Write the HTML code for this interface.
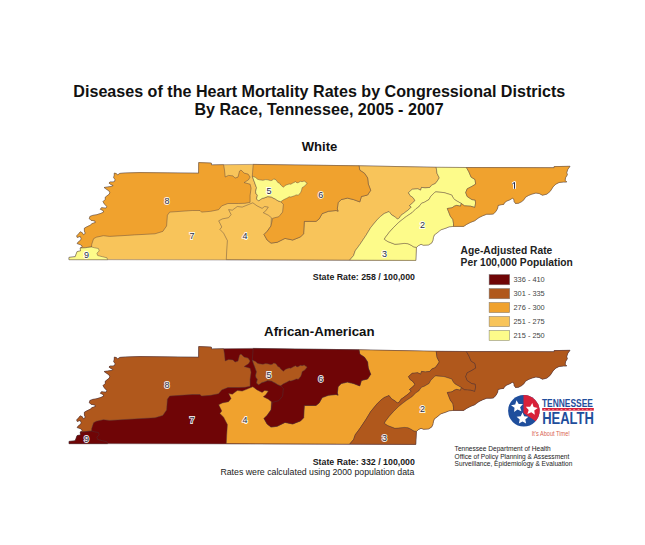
<!DOCTYPE html>
<html><head><meta charset="utf-8"><style>
html,body{margin:0;padding:0;background:#fff;}
body{width:645px;height:545px;overflow:hidden;position:relative;}
svg{position:absolute;left:0;top:0;}
</style></head><body>
<svg width="645" height="545" viewBox="0 0 645 545" font-family="Liberation Sans, sans-serif">
<rect width="645" height="545" fill="#fff"/>
<g fill="#111" font-weight="bold" text-anchor="middle">
<text x="319.3" y="96.6" font-size="16.1">Diseases of the Heart Mortality Rates by Congressional Districts</text>
<text x="319.1" y="114.7" font-size="16.1">By Race, Tennessee, 2005 - 2007</text>
<text x="319.5" y="150.8" font-size="13.1">White</text>
<text x="319.3" y="336.3" font-size="13.25">African-American</text>
</g>
<g transform="translate(0,0)" stroke="#4a3a3e" stroke-width="0.42" stroke-linejoin="round">
<path d="M69.0 259.7 69.0 257.4 75.2 256.7 77.1 251.6 80.6 250.9 80.2 248.1 81.5 247.5 82.3 246.1 80.3 244.6 77.2 243.6 78.2 242.0 80.3 240.5 81.3 238.9 80.3 236.4 77.2 237.4 76.7 235.9 78.7 233.8 80.3 231.8 82.3 232.8 83.4 234.8 85.4 233.3 84.4 231.2 84.4 228.2 86.4 227.1 89.5 225.6 90.5 225.0 92.1 223.6 95.4 222.5 94.9 220.9 91.0 220.3 89.4 218.7 89.9 216.5 92.7 215.4 96.5 214.8 100.9 213.4 103.7 212.1 103.1 210.4 100.4 209.3 101.5 207.7 105.9 208.2 107.0 206.6 104.2 203.8 103.1 201.6 105.3 199.4 105.3 197.2 108.1 195.0 109.3 194.1 109.9 192.2 108.2 190.3 105.5 188.6 104.1 187.5 107.7 187.0 111.5 186.4 113.2 185.6 111.0 184.5 109.0 183.1 109.9 182.0 113.2 182.0 114.8 181.2 115.1 179.6 113.7 177.6 114.3 175.2 114.3 173.1 116.3 173.6 117.6 175.0 119.8 173.4 125.0 173.0 140.0 172.6 198.6 173.2 198.7 162.6 211.3 163.1 211.5 164.9 223.6 164.7 253.2 164.4 359.0 165.8 436.2 167.3 466.4 167.5 554.1 167.7 554.1 166.6 570.0 166.3 567.8 169.3 566.7 172.6 567.3 174.8 565.6 177.6 565.1 180.3 566.7 182.0 563.4 182.0 559.0 182.5 555.7 184.2 553.0 186.9 550.2 191.3 546.9 194.1 542.5 195.2 539.2 193.5 535.9 193.0 531.6 194.2 528.5 195.4 525.4 197.3 524.1 199.5 521.7 201.6 518.6 203.2 515.5 203.5 514.2 201.6 513.9 199.2 512.4 198.2 509.9 199.8 506.8 201.0 504.3 202.9 503.7 204.4 501.2 204.7 498.1 205.4 497.6 208.3 495.9 211.5 493.2 214.0 490.5 214.2 486.7 214.2 482.4 215.9 479.1 217.5 476.9 219.1 474.8 220.7 470.4 222.4 466.6 224.4 463.6 226.4 453.5 226.4 449.1 226.8 446.0 228.1 440.5 229.9 438.6 231.8 434.3 234.9 433.4 237.5 432.8 240.6 431.6 243.1 428.5 244.9 423.5 245.2 421.0 244.3 418.6 245.5 416.4 247.4 415.8 260.4 69.0 259.6Z" fill="#f8c45a"/>
<path d="M114.3 173.1 116.3 173.6 117.6 175.0 119.8 173.4 125.0 173.0 140.0 172.6 198.6 173.2 198.7 162.6 211.3 163.1 211.5 164.9 223.6 164.7 223.6 164.7 224.5 170.0 225.2 177.0 228.5 175.4 233.0 175.9 235.0 178.1 238.0 177.1 239.5 171.1 241.0 170.0 244.1 173.1 248.1 174.1 250.1 177.1 248.5 179.8 244.1 182.6 250.1 184.2 251.1 188.2 250.1 195.3 250.1 202.3 245.1 203.3 238.7 203.5 227.9 203.5 221.7 205.9 218.6 209.7 210.8 211.3 201.5 212.1 200.0 210.5 192.2 210.5 169.7 212.1 167.4 215.2 166.6 226.0 162.8 231.4 155.0 233.8 134.4 234.9 122.0 235.7 109.6 236.4 103.4 235.7 96.4 237.2 93.6 238.7 91.7 244.4 91.5 247.0 87.6 247.4 85.3 247.8 80.2 248.1 81.5 247.5 82.3 246.1 80.3 244.6 77.2 243.6 78.2 242.0 80.3 240.5 81.3 238.9 80.3 236.4 77.2 237.4 76.7 235.9 78.7 233.8 80.3 231.8 82.3 232.8 83.4 234.8 85.4 233.3 84.4 231.2 84.4 228.2 86.4 227.1 89.5 225.6 90.5 225.0 92.1 223.6 95.4 222.5 94.9 220.9 91.0 220.3 89.4 218.7 89.9 216.5 92.7 215.4 96.5 214.8 100.9 213.4 103.7 212.1 103.1 210.4 100.4 209.3 101.5 207.7 105.9 208.2 107.0 206.6 104.2 203.8 103.1 201.6 105.3 199.4 105.3 197.2 108.1 195.0 109.3 194.1 109.9 192.2 108.2 190.3 105.5 188.6 104.1 187.5 107.7 187.0 111.5 186.4 113.2 185.6 111.0 184.5 109.0 183.1 109.9 182.0 113.2 182.0 114.8 181.2 115.1 179.6 113.7 177.6 114.3 175.2 114.3 173.1Z" fill="#f0a22e"/>
<path d="M80.2 248.1 85.3 247.8 87.6 247.4 91.5 247.0 94.6 247.8 98.4 248.5 99.2 250.9 96.9 253.2 97.7 255.5 102.3 256.7 107.0 257.8 107.7 259.7 69.0 259.7 69.0 257.4 75.2 256.7 77.1 251.6 80.6 250.9 80.2 248.1Z" fill="#fdfb8a"/>
<path d="M226.3 259.6 226.7 251.0 227.4 240.6 223.6 233.2 219.9 229.4 221.8 227.0 218.7 220.8 222.4 218.9 228.6 217.7 231.1 214.6 228.6 209.6 232.3 210.2 237.3 206.5 242.2 207.1 248.4 204.6 252.8 202.8 257.1 205.9 262.1 208.4 264.6 206.5 268.3 207.1 265.8 210.8 263.3 212.7 268.3 215.2 271.4 217.7 271.0 226.0 267.1 231.4 264.0 234.5 267.1 240.0 271.0 243.1 277.2 242.3 285.0 238.4 292.7 240.0 300.5 236.9 303.6 233.8 304.3 221.4 309.8 221.4 316.0 221.4 319.1 219.0 322.2 213.6 328.4 211.3 336.1 210.5 338.1 211.2 337.3 208.9 338.1 202.7 341.2 199.6 347.4 198.1 353.6 199.6 359.8 201.9 361.4 196.5 367.6 195.0 370.7 190.3 368.3 184.1 367.6 177.9 364.5 173.3 359.8 170.2 359.0 165.8 436.2 167.3 437.0 173.3 439.3 177.9 436.2 182.6 435.0 183.7 431.7 185.1 429.9 187.4 425.2 187.9 421.5 187.4 420.6 190.2 417.8 188.8 412.2 189.3 408.5 192.6 409.9 195.3 413.1 197.7 415.0 200.5 412.2 203.3 409.4 205.6 411.3 207.0 408.5 209.8 404.8 212.6 401.0 215.3 399.2 218.1 397.3 219.1 395.5 217.2 391.7 214.9 389.0 211.6 384.3 213.5 380.6 216.3 376.9 220.0 370.7 227.6 366.0 235.3 359.8 244.6 355.2 250.8 353.6 255.5 349.7 260.1Z" fill="#f8c45a"/>
<path d="M253.2 164.4 359.0 165.8 359.8 170.2 364.5 173.3 367.6 177.9 368.3 184.1 370.7 190.3 367.6 195.0 361.4 196.5 359.8 201.9 353.6 199.6 347.4 198.1 341.2 199.6 338.1 202.7 337.3 208.9 338.1 211.2 336.1 210.5 328.4 211.3 322.2 213.6 319.1 219.0 316.0 221.4 309.8 221.4 304.3 221.4 303.6 233.8 300.5 236.9 292.7 240.0 285.0 238.4 277.2 242.3 271.0 243.1 267.1 240.0 264.0 234.5 267.1 231.4 271.0 226.0 272.6 218.3 278.8 216.7 282.6 212.1 283.4 204.3 280.7 201.7 277.9 200.8 275.1 198.9 273.2 198.1 271.4 197.0 267.7 196.6 264.0 198.0 262.0 198.4 260.2 199.8 258.4 200.8 256.5 198.9 257.4 195.2 256.0 193.6 255.6 191.5 256.5 187.7 255.1 184.0 254.5 182.2 253.7 180.3 252.3 176.1Z" fill="#f0a22e"/>
<path d="M252.3 176.1 255.6 177.5 257.5 179.2 259.3 179.8 263.0 180.3 265.5 179.6 267.7 179.8 270.5 180.6 272.3 180.3 273.7 178.9 276.0 179.8 277.9 182.6 279.6 183.2 280.7 185.0 283.5 187.3 285.2 185.4 286.3 185.0 289.1 184.0 290.8 184.2 292.8 183.1 295.6 181.7 297.0 182.9 298.4 182.6 300.5 181.3 302.1 181.7 304.2 181.0 305.8 182.2 307.2 183.1 304.9 185.9 302.1 187.7 301.6 190.2 300.7 192.4 298.4 195.2 296.2 194.9 294.7 195.7 290.9 197.0 289.2 196.8 287.2 198.0 283.5 199.8 280.7 201.7 277.9 200.8 275.1 198.9 273.2 198.1 271.4 197.0 267.7 196.6 264.0 198.0 262.0 198.4 260.2 199.8 258.4 200.8 256.5 198.9 257.4 195.2 256.0 193.6 255.6 191.5 256.5 187.7 255.1 184.0 254.5 182.2 253.7 180.3Z" fill="#fdfb8a"/>
<path d="M436.2 167.3 466.4 167.5 468.8 171.7 471.1 177.1 475.0 179.5 475.7 184.1 471.9 186.4 467.2 188.8 465.7 192.6 467.2 196.5 471.9 199.6 475.2 200.0 475.6 203.1 474.8 207.4 470.6 206.2 464.4 205.8 461.3 203.5 455.1 200.0 453.3 198.1 451.7 195.0 444.0 192.6 436.2 191.9 435.0 192.1 430.8 196.3 429.0 199.5 424.3 202.3 421.5 203.3 418.7 207.0 415.9 208.8 412.2 212.6 406.6 216.3 402.9 219.1 398.3 222.8 393.6 227.4 389.3 232.2 385.5 237.2 384.3 239.2 387.7 241.5 395.0 244.3 404.3 243.4 408.0 243.7 411.1 245.2 413.6 246.8 416.4 247.4 415.8 260.4 349.7 260.1 353.6 255.5 355.2 250.8 359.8 244.6 366.0 235.3 370.7 227.6 376.9 220.0 380.6 216.3 384.3 213.5 389.0 211.6 391.7 214.9 395.5 217.2 397.3 219.1 399.2 218.1 401.0 215.3 404.8 212.6 408.5 209.8 411.3 207.0 409.4 205.6 412.2 203.3 415.0 200.5 413.1 197.7 409.9 195.3 408.5 192.6 412.2 189.3 417.8 188.8 420.6 190.2 421.5 187.4 425.2 187.9 429.9 187.4 431.7 185.1 435.0 183.7 436.2 182.6 439.3 177.9 437.0 173.3Z" fill="#fdfb8a"/>
<path d="M435.0 192.1 436.2 191.9 444.0 192.6 451.7 195.0 453.3 198.1 455.1 200.0 461.3 203.5 460.5 206.2 456.6 205.4 454.3 206.2 452.0 207.8 447.3 208.5 448.5 211.6 450.4 216.3 452.8 219.4 453.5 223.3 453.5 226.4 449.1 226.8 446.0 228.1 440.5 229.9 438.6 231.8 434.3 234.9 433.4 237.5 432.8 240.6 431.6 243.1 428.5 244.9 423.5 245.2 421.0 244.3 418.6 245.5 416.4 247.4 413.6 246.8 411.1 245.2 408.0 243.7 404.3 243.4 395.0 244.3 387.7 241.5 384.3 239.2 385.5 237.2 389.3 232.2 393.6 227.4 398.3 222.8 402.9 219.1 406.6 216.3 412.2 212.6 415.9 208.8 418.7 207.0 421.5 203.3 424.3 202.3 429.0 199.5 430.8 196.3Z" fill="#fdfb8a"/>
<path d="M466.4 167.5 554.1 167.7 554.1 166.6 570.0 166.3 567.8 169.3 566.7 172.6 567.3 174.8 565.6 177.6 565.1 180.3 566.7 182.0 563.4 182.0 559.0 182.5 555.7 184.2 553.0 186.9 550.2 191.3 546.9 194.1 542.5 195.2 539.2 193.5 535.9 193.0 531.6 194.2 528.5 195.4 525.4 197.3 524.1 199.5 521.7 201.6 518.6 203.2 515.5 203.5 514.2 201.6 513.9 199.2 512.4 198.2 509.9 199.8 506.8 201.0 504.3 202.9 503.7 204.4 501.2 204.7 498.1 205.4 497.6 208.3 495.9 211.5 493.2 214.0 490.5 214.2 486.7 214.2 482.4 215.9 479.1 217.5 476.9 219.1 474.8 220.7 470.4 222.4 466.6 224.4 463.6 226.4 453.5 226.4 453.5 223.3 452.8 219.4 450.4 216.3 448.5 211.6 447.3 208.5 452.0 207.8 454.3 206.2 456.6 205.4 460.5 206.2 461.3 203.5 464.4 205.8 470.6 206.2 474.8 207.4 475.6 203.1 475.2 200.0 471.9 199.6 467.2 196.5 465.7 192.6 467.2 188.8 471.9 186.4 475.7 184.1 475.0 179.5 471.1 177.1 468.8 171.7Z" fill="#f0a22e"/>
</g>
<g font-family="Liberation Sans, sans-serif" font-size="9" text-anchor="middle" fill="#2a2e48">
<path d="M512.4 183.9 L514.5 182.4 L514.5 188.7" fill="none" stroke="#fff" stroke-opacity="0.9" stroke-width="2.5" stroke-linejoin="round"/><path d="M512.4 183.9 L514.5 182.4 L514.5 188.7" fill="none" stroke="#2a2e48" stroke-width="1.0"/>
<text x="422.5" y="227.9" stroke="#ffffff" stroke-width="1.8" stroke-opacity="0.9" fill="#2a2e48" paint-order="stroke">2</text>
<text x="384.6" y="256.8" stroke="#ffffff" stroke-width="1.8" stroke-opacity="0.9" fill="#2a2e48" paint-order="stroke">3</text>
<text x="245.1" y="238.8" stroke="#ffffff" stroke-width="1.8" stroke-opacity="0.9" fill="#2a2e48" paint-order="stroke">4</text>
<text x="269.0" y="193.8" stroke="#ffffff" stroke-width="1.8" stroke-opacity="0.9" fill="#2a2e48" paint-order="stroke">5</text>
<text x="320.8" y="198.2" stroke="#ffffff" stroke-width="1.8" stroke-opacity="0.9" fill="#2a2e48" paint-order="stroke">6</text>
<text x="191.9" y="239.4" stroke="#ffffff" stroke-width="1.8" stroke-opacity="0.9" fill="#2a2e48" paint-order="stroke">7</text>
<text x="167.0" y="203.8" stroke="#ffffff" stroke-width="1.8" stroke-opacity="0.9" fill="#2a2e48" paint-order="stroke">8</text>
<text x="86.4" y="258.3" stroke="#ffffff" stroke-width="1.8" stroke-opacity="0.9" fill="#2a2e48" paint-order="stroke">9</text>
</g>

<g transform="translate(0,184)" stroke="#4a3a3e" stroke-width="0.42" stroke-linejoin="round">
<path d="M69.0 259.7 69.0 257.4 75.2 256.7 77.1 251.6 80.6 250.9 80.2 248.1 81.5 247.5 82.3 246.1 80.3 244.6 77.2 243.6 78.2 242.0 80.3 240.5 81.3 238.9 80.3 236.4 77.2 237.4 76.7 235.9 78.7 233.8 80.3 231.8 82.3 232.8 83.4 234.8 85.4 233.3 84.4 231.2 84.4 228.2 86.4 227.1 89.5 225.6 90.5 225.0 92.1 223.6 95.4 222.5 94.9 220.9 91.0 220.3 89.4 218.7 89.9 216.5 92.7 215.4 96.5 214.8 100.9 213.4 103.7 212.1 103.1 210.4 100.4 209.3 101.5 207.7 105.9 208.2 107.0 206.6 104.2 203.8 103.1 201.6 105.3 199.4 105.3 197.2 108.1 195.0 109.3 194.1 109.9 192.2 108.2 190.3 105.5 188.6 104.1 187.5 107.7 187.0 111.5 186.4 113.2 185.6 111.0 184.5 109.0 183.1 109.9 182.0 113.2 182.0 114.8 181.2 115.1 179.6 113.7 177.6 114.3 175.2 114.3 173.1 116.3 173.6 117.6 175.0 119.8 173.4 125.0 173.0 140.0 172.6 198.6 173.2 198.7 162.6 211.3 163.1 211.5 164.9 223.6 164.7 253.2 164.4 359.0 165.8 436.2 167.3 466.4 167.5 554.1 167.7 554.1 166.6 570.0 166.3 567.8 169.3 566.7 172.6 567.3 174.8 565.6 177.6 565.1 180.3 566.7 182.0 563.4 182.0 559.0 182.5 555.7 184.2 553.0 186.9 550.2 191.3 546.9 194.1 542.5 195.2 539.2 193.5 535.9 193.0 531.6 194.2 528.5 195.4 525.4 197.3 524.1 199.5 521.7 201.6 518.6 203.2 515.5 203.5 514.2 201.6 513.9 199.2 512.4 198.2 509.9 199.8 506.8 201.0 504.3 202.9 503.7 204.4 501.2 204.7 498.1 205.4 497.6 208.3 495.9 211.5 493.2 214.0 490.5 214.2 486.7 214.2 482.4 215.9 479.1 217.5 476.9 219.1 474.8 220.7 470.4 222.4 466.6 224.4 463.6 226.4 453.5 226.4 449.1 226.8 446.0 228.1 440.5 229.9 438.6 231.8 434.3 234.9 433.4 237.5 432.8 240.6 431.6 243.1 428.5 244.9 423.5 245.2 421.0 244.3 418.6 245.5 416.4 247.4 415.8 260.4 69.0 259.6Z" fill="#6f0506"/>
<path d="M114.3 173.1 116.3 173.6 117.6 175.0 119.8 173.4 125.0 173.0 140.0 172.6 198.6 173.2 198.7 162.6 211.3 163.1 211.5 164.9 223.6 164.7 223.6 164.7 224.5 170.0 225.2 177.0 228.5 175.4 233.0 175.9 235.0 178.1 238.0 177.1 239.5 171.1 241.0 170.0 244.1 173.1 248.1 174.1 250.1 177.1 248.5 179.8 244.1 182.6 250.1 184.2 251.1 188.2 250.1 195.3 250.1 202.3 245.1 203.3 238.7 203.5 227.9 203.5 221.7 205.9 218.6 209.7 210.8 211.3 201.5 212.1 200.0 210.5 192.2 210.5 169.7 212.1 167.4 215.2 166.6 226.0 162.8 231.4 155.0 233.8 134.4 234.9 122.0 235.7 109.6 236.4 103.4 235.7 96.4 237.2 93.6 238.7 91.7 244.4 91.5 247.0 87.6 247.4 85.3 247.8 80.2 248.1 81.5 247.5 82.3 246.1 80.3 244.6 77.2 243.6 78.2 242.0 80.3 240.5 81.3 238.9 80.3 236.4 77.2 237.4 76.7 235.9 78.7 233.8 80.3 231.8 82.3 232.8 83.4 234.8 85.4 233.3 84.4 231.2 84.4 228.2 86.4 227.1 89.5 225.6 90.5 225.0 92.1 223.6 95.4 222.5 94.9 220.9 91.0 220.3 89.4 218.7 89.9 216.5 92.7 215.4 96.5 214.8 100.9 213.4 103.7 212.1 103.1 210.4 100.4 209.3 101.5 207.7 105.9 208.2 107.0 206.6 104.2 203.8 103.1 201.6 105.3 199.4 105.3 197.2 108.1 195.0 109.3 194.1 109.9 192.2 108.2 190.3 105.5 188.6 104.1 187.5 107.7 187.0 111.5 186.4 113.2 185.6 111.0 184.5 109.0 183.1 109.9 182.0 113.2 182.0 114.8 181.2 115.1 179.6 113.7 177.6 114.3 175.2 114.3 173.1Z" fill="#b0581c"/>
<path d="M80.2 248.1 85.3 247.8 87.6 247.4 91.5 247.0 94.6 247.8 98.4 248.5 99.2 250.9 96.9 253.2 97.7 255.5 102.3 256.7 107.0 257.8 107.7 259.7 69.0 259.7 69.0 257.4 75.2 256.7 77.1 251.6 80.6 250.9 80.2 248.1Z" fill="#6f0506"/>
<path d="M226.3 259.6 226.7 251.0 227.4 240.6 223.6 233.2 219.9 229.4 221.8 227.0 218.7 220.8 222.4 218.9 228.6 217.7 231.1 214.6 228.6 209.6 232.3 210.2 237.3 206.5 242.2 207.1 248.4 204.6 252.8 202.8 257.1 205.9 262.1 208.4 264.6 206.5 268.3 207.1 265.8 210.8 263.3 212.7 268.3 215.2 271.4 217.7 271.0 226.0 267.1 231.4 264.0 234.5 267.1 240.0 271.0 243.1 277.2 242.3 285.0 238.4 292.7 240.0 300.5 236.9 303.6 233.8 304.3 221.4 309.8 221.4 316.0 221.4 319.1 219.0 322.2 213.6 328.4 211.3 336.1 210.5 338.1 211.2 337.3 208.9 338.1 202.7 341.2 199.6 347.4 198.1 353.6 199.6 359.8 201.9 361.4 196.5 367.6 195.0 370.7 190.3 368.3 184.1 367.6 177.9 364.5 173.3 359.8 170.2 359.0 165.8 436.2 167.3 437.0 173.3 439.3 177.9 436.2 182.6 435.0 183.7 431.7 185.1 429.9 187.4 425.2 187.9 421.5 187.4 420.6 190.2 417.8 188.8 412.2 189.3 408.5 192.6 409.9 195.3 413.1 197.7 415.0 200.5 412.2 203.3 409.4 205.6 411.3 207.0 408.5 209.8 404.8 212.6 401.0 215.3 399.2 218.1 397.3 219.1 395.5 217.2 391.7 214.9 389.0 211.6 384.3 213.5 380.6 216.3 376.9 220.0 370.7 227.6 366.0 235.3 359.8 244.6 355.2 250.8 353.6 255.5 349.7 260.1Z" fill="#f0a22e"/>
<path d="M253.2 164.4 359.0 165.8 359.8 170.2 364.5 173.3 367.6 177.9 368.3 184.1 370.7 190.3 367.6 195.0 361.4 196.5 359.8 201.9 353.6 199.6 347.4 198.1 341.2 199.6 338.1 202.7 337.3 208.9 338.1 211.2 336.1 210.5 328.4 211.3 322.2 213.6 319.1 219.0 316.0 221.4 309.8 221.4 304.3 221.4 303.6 233.8 300.5 236.9 292.7 240.0 285.0 238.4 277.2 242.3 271.0 243.1 267.1 240.0 264.0 234.5 267.1 231.4 271.0 226.0 272.6 218.3 278.8 216.7 282.6 212.1 283.4 204.3 280.7 201.7 277.9 200.8 275.1 198.9 273.2 198.1 271.4 197.0 267.7 196.6 264.0 198.0 262.0 198.4 260.2 199.8 258.4 200.8 256.5 198.9 257.4 195.2 256.0 193.6 255.6 191.5 256.5 187.7 255.1 184.0 254.5 182.2 253.7 180.3 252.3 176.1Z" fill="#6f0506"/>
<path d="M252.3 176.1 255.6 177.5 257.5 179.2 259.3 179.8 263.0 180.3 265.5 179.6 267.7 179.8 270.5 180.6 272.3 180.3 273.7 178.9 276.0 179.8 277.9 182.6 279.6 183.2 280.7 185.0 283.5 187.3 285.2 185.4 286.3 185.0 289.1 184.0 290.8 184.2 292.8 183.1 295.6 181.7 297.0 182.9 298.4 182.6 300.5 181.3 302.1 181.7 304.2 181.0 305.8 182.2 307.2 183.1 304.9 185.9 302.1 187.7 301.6 190.2 300.7 192.4 298.4 195.2 296.2 194.9 294.7 195.7 290.9 197.0 289.2 196.8 287.2 198.0 283.5 199.8 280.7 201.7 277.9 200.8 275.1 198.9 273.2 198.1 271.4 197.0 267.7 196.6 264.0 198.0 262.0 198.4 260.2 199.8 258.4 200.8 256.5 198.9 257.4 195.2 256.0 193.6 255.6 191.5 256.5 187.7 255.1 184.0 254.5 182.2 253.7 180.3Z" fill="#b0581c"/>
<path d="M436.2 167.3 466.4 167.5 468.8 171.7 471.1 177.1 475.0 179.5 475.7 184.1 471.9 186.4 467.2 188.8 465.7 192.6 467.2 196.5 471.9 199.6 475.2 200.0 475.6 203.1 474.8 207.4 470.6 206.2 464.4 205.8 461.3 203.5 455.1 200.0 453.3 198.1 451.7 195.0 444.0 192.6 436.2 191.9 435.0 192.1 430.8 196.3 429.0 199.5 424.3 202.3 421.5 203.3 418.7 207.0 415.9 208.8 412.2 212.6 406.6 216.3 402.9 219.1 398.3 222.8 393.6 227.4 389.3 232.2 385.5 237.2 384.3 239.2 387.7 241.5 395.0 244.3 404.3 243.4 408.0 243.7 411.1 245.2 413.6 246.8 416.4 247.4 415.8 260.4 349.7 260.1 353.6 255.5 355.2 250.8 359.8 244.6 366.0 235.3 370.7 227.6 376.9 220.0 380.6 216.3 384.3 213.5 389.0 211.6 391.7 214.9 395.5 217.2 397.3 219.1 399.2 218.1 401.0 215.3 404.8 212.6 408.5 209.8 411.3 207.0 409.4 205.6 412.2 203.3 415.0 200.5 413.1 197.7 409.9 195.3 408.5 192.6 412.2 189.3 417.8 188.8 420.6 190.2 421.5 187.4 425.2 187.9 429.9 187.4 431.7 185.1 435.0 183.7 436.2 182.6 439.3 177.9 437.0 173.3Z" fill="#b0581c"/>
<path d="M435.0 192.1 436.2 191.9 444.0 192.6 451.7 195.0 453.3 198.1 455.1 200.0 461.3 203.5 460.5 206.2 456.6 205.4 454.3 206.2 452.0 207.8 447.3 208.5 448.5 211.6 450.4 216.3 452.8 219.4 453.5 223.3 453.5 226.4 449.1 226.8 446.0 228.1 440.5 229.9 438.6 231.8 434.3 234.9 433.4 237.5 432.8 240.6 431.6 243.1 428.5 244.9 423.5 245.2 421.0 244.3 418.6 245.5 416.4 247.4 413.6 246.8 411.1 245.2 408.0 243.7 404.3 243.4 395.0 244.3 387.7 241.5 384.3 239.2 385.5 237.2 389.3 232.2 393.6 227.4 398.3 222.8 402.9 219.1 406.6 216.3 412.2 212.6 415.9 208.8 418.7 207.0 421.5 203.3 424.3 202.3 429.0 199.5 430.8 196.3Z" fill="#f0a22e"/>
<path d="M466.4 167.5 554.1 167.7 554.1 166.6 570.0 166.3 567.8 169.3 566.7 172.6 567.3 174.8 565.6 177.6 565.1 180.3 566.7 182.0 563.4 182.0 559.0 182.5 555.7 184.2 553.0 186.9 550.2 191.3 546.9 194.1 542.5 195.2 539.2 193.5 535.9 193.0 531.6 194.2 528.5 195.4 525.4 197.3 524.1 199.5 521.7 201.6 518.6 203.2 515.5 203.5 514.2 201.6 513.9 199.2 512.4 198.2 509.9 199.8 506.8 201.0 504.3 202.9 503.7 204.4 501.2 204.7 498.1 205.4 497.6 208.3 495.9 211.5 493.2 214.0 490.5 214.2 486.7 214.2 482.4 215.9 479.1 217.5 476.9 219.1 474.8 220.7 470.4 222.4 466.6 224.4 463.6 226.4 453.5 226.4 453.5 223.3 452.8 219.4 450.4 216.3 448.5 211.6 447.3 208.5 452.0 207.8 454.3 206.2 456.6 205.4 460.5 206.2 461.3 203.5 464.4 205.8 470.6 206.2 474.8 207.4 475.6 203.1 475.2 200.0 471.9 199.6 467.2 196.5 465.7 192.6 467.2 188.8 471.9 186.4 475.7 184.1 475.0 179.5 471.1 177.1 468.8 171.7Z" fill="#b0581c"/>
</g>
<g font-family="Liberation Sans, sans-serif" font-size="9" text-anchor="middle" fill="#2a2e48">
<path d="M512.4 183.9 L514.5 182.4 L514.5 188.7" fill="none" stroke="#fff" stroke-opacity="0.9" stroke-width="2.5" stroke-linejoin="round"/><path d="M512.4 183.9 L514.5 182.4 L514.5 188.7" fill="none" stroke="#2a2e48" stroke-width="1.0"/>
<text x="422.5" y="411.9" stroke="#ffffff" stroke-width="1.8" stroke-opacity="0.9" fill="#2a2e48" paint-order="stroke">2</text>
<text x="384.6" y="440.8" stroke="#ffffff" stroke-width="1.8" stroke-opacity="0.9" fill="#2a2e48" paint-order="stroke">3</text>
<text x="245.1" y="422.8" stroke="#ffffff" stroke-width="1.8" stroke-opacity="0.9" fill="#2a2e48" paint-order="stroke">4</text>
<text x="269.0" y="377.8" stroke="#ffffff" stroke-width="1.8" stroke-opacity="0.9" fill="#2a2e48" paint-order="stroke">5</text>
<text x="320.8" y="382.2" stroke="#ffffff" stroke-width="1.8" stroke-opacity="0.9" fill="#2a2e48" paint-order="stroke">6</text>
<text x="191.9" y="423.4" stroke="#ffffff" stroke-width="1.8" stroke-opacity="0.9" fill="#2a2e48" paint-order="stroke">7</text>
<text x="167.0" y="387.8" stroke="#ffffff" stroke-width="1.8" stroke-opacity="0.9" fill="#2a2e48" paint-order="stroke">8</text>
<text x="86.4" y="442.3" stroke="#ffffff" stroke-width="1.8" stroke-opacity="0.9" fill="#2a2e48" paint-order="stroke">9</text>
</g>

<g fill="#1a1a1a" font-weight="bold">
<text x="312.8" y="280.1" font-size="8.8">State Rate: 258 / 100,000</text>
<text x="312.7" y="464.7" font-size="8.8">State Rate: 332 / 100,000</text>
</g>
<text x="220.4" y="474.6" font-size="8.78" fill="#1a1a1a">Rates were calculated using 2000 population data</text>
<g fill="#222" font-weight="bold" font-size="10.25">
<text x="460.6" y="254.4">Age-Adjusted Rate</text>
<text x="460.6" y="266.4">Per 100,000 Population</text>
</g>
<g stroke="#7a7a7a" stroke-width="0.5">
<rect x="489.1" y="274.5" width="20.6" height="10.3" fill="#6f0506"/>
<rect x="489.1" y="288.5" width="20.6" height="10.3" fill="#b0581c"/>
<rect x="489.1" y="302.4" width="20.6" height="10.3" fill="#f0a22e"/>
<rect x="489.1" y="316.4" width="20.6" height="10.3" fill="#f8c45a"/>
<rect x="489.1" y="330.3" width="20.6" height="10.3" fill="#fdfb8a"/>
</g>
<g fill="#444" font-size="7.4">
<text x="513.5" y="282.4">336 - 410</text>
<text x="513.5" y="296.4">301 - 335</text>
<text x="513.5" y="310.3">276 - 300</text>
<text x="513.5" y="324.3">251 - 275</text>
<text x="513.5" y="338.2">215 - 250</text>
</g>
<!-- logo -->
<g>
<circle cx="523.8" cy="410.8" r="15.7" fill="#1f4e9c"/>
<path d="M523.5 395.1 A15.7 15.7 0 0 1 535.7 421.3 L523.5 412.9 Z" fill="#d8213a"/>
<g fill="#fff">
<path d="M516.5 400.3 518.7 404.0 523.0 404.0 520.1 407.2 521.4 411.3 517.5 409.5 514.1 412.1 514.5 407.8 511.0 405.3 515.2 404.4Z"/><path d="M532.3 403.0 533.6 407.1 537.8 408.0 534.3 410.5 534.8 414.8 531.3 412.2 527.4 414.0 528.7 409.9 525.8 406.7 530.1 406.7Z"/><path d="M522.5 412.4 524.2 416.2 528.4 416.7 525.3 419.5 526.1 423.6 522.5 421.5 518.9 423.6 519.7 419.5 516.6 416.7 520.8 416.2Z"/>
</g>
<text x="541.9" y="406.6" font-size="11.5" font-weight="bold" fill="#1f4e9c" textLength="51" lengthAdjust="spacingAndGlyphs">TENNESSEE</text>
<rect x="542.2" y="408" width="51.6" height="2.6" fill="#d8213a"/>
<text x="544" y="410.2" font-size="2.4" font-weight="bold" fill="#fbe0e0" textLength="48" lengthAdjust="spacing">D E P A R T M E N T   O F</text>
<text x="542.2" y="423.8" font-size="16.9" font-weight="bold" fill="#1f4e9c" textLength="51.6" lengthAdjust="spacingAndGlyphs">HEALTH</text>
<text x="531.8" y="435.9" font-size="7" fill="#d9644f" textLength="38" lengthAdjust="spacingAndGlyphs">It's About Time!</text>
</g>
<g fill="#222" font-size="6.58">
<text x="454.6" y="450.8">Tennessee Department of Health</text>
<text x="454.6" y="458.5">Office of Policy Planning &amp; Assessment</text>
<text x="454.6" y="466">Surveillance, Epidemiology &amp; Evaluation</text>
</g>
</svg>
</body></html>
